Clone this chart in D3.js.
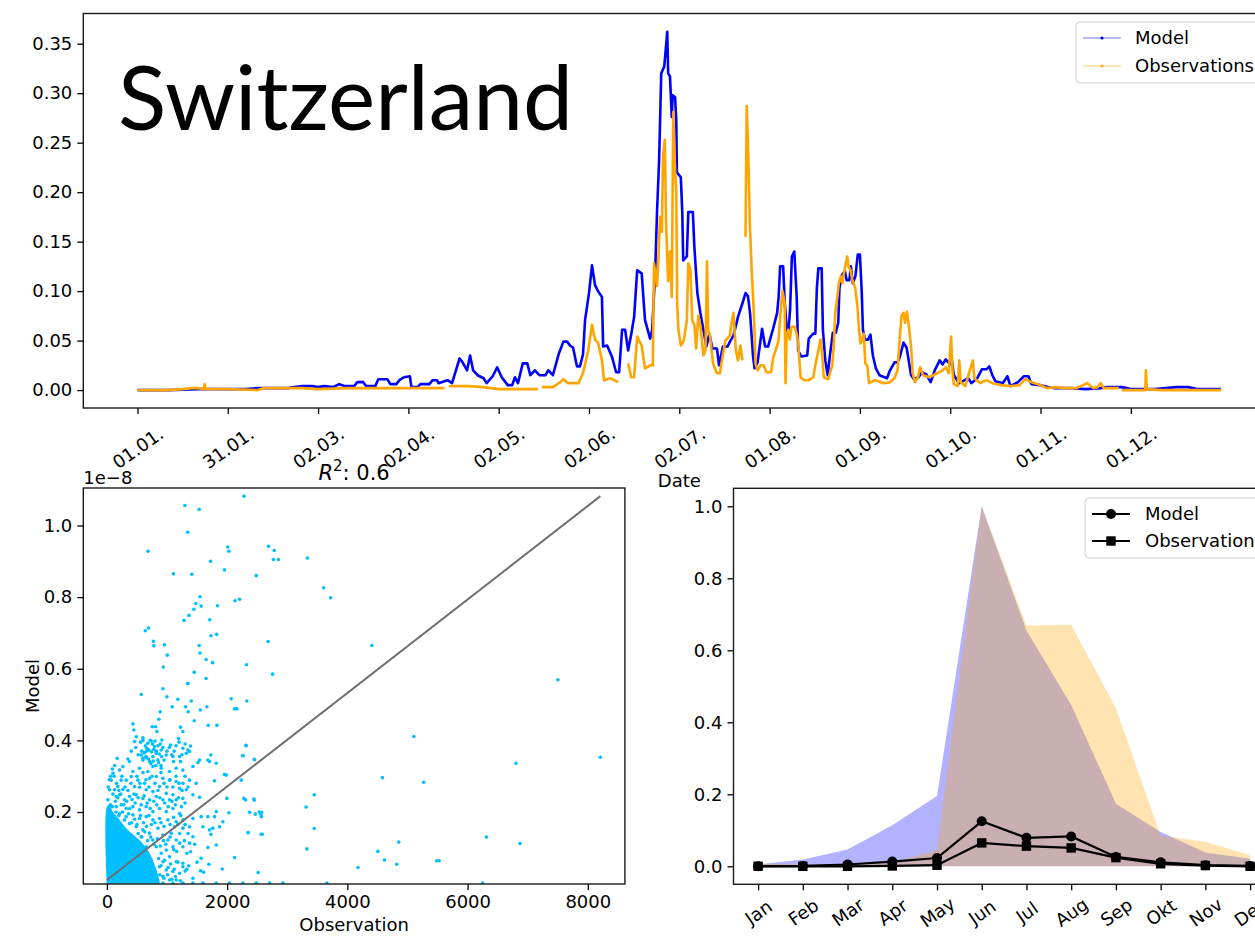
<!DOCTYPE html>
<html>
<head>
<meta charset="utf-8">
<script src="https://cdn.jsdelivr.net/npm/d3@7"></script>
<style>
  html, body { margin: 0; padding: 0; background: #fff; overflow: hidden; }
  svg { display: block; font-family: "DejaVu Sans", sans-serif; }
</style>
</head>
<body>
<svg id="fig" width="1255" height="936"></svg>
<script>
// ---------- time series (day of year, normalised value) ----------
const tickDays = [0, 30, 60, 90, 120, 150, 180, 210, 240, 270, 300, 330];
const tickLabels = ["01.01.", "31.01.", "02.03.", "02.04.", "02.05.", "02.06.",
                    "02.07.", "01.08.", "01.09.", "01.10.", "01.11.", "01.12."];
const yTicksTop = [0, 0.05, 0.10, 0.15, 0.20, 0.25, 0.30, 0.35];

const modelSeries = [
  [0,0],[10,0],[20,0.001],[30,0.001],[36,0.001],[40,0.002],[45,0.002],[50,0.002],[52,0.003],[55,0.004],
  [58,0.004],[60,0.003],[62,0.004],[65,0.003],[67,0.006],[69,0.004],[72,0.004],[73,0.008],[75,0.008],[76,0.004],
  [79,0.004],[80,0.011],[83,0.011],[84,0.006],[86,0.006],[87,0.010],[88.5,0.013],[90.5,0.014],[91,0.003],[93,0.003],
  [94,0.006],[97,0.006],[98,0.010],[99.5,0.010],[100,0.007],[103,0.010],[104.5,0.007],[106,0.022],[107,0.032],[108,0.028],
  [109.5,0.020],[110.5,0.035],[111.5,0.020],[113,0.015],[115,0.012],[116,0.007],[118,0.014],[119.5,0.023],
  [121,0.013],[123,0.005],[124.5,0.005],[125.4,0.013],[126.4,0.007],[128,0.027],[129.5,0.027],[130.5,0.015],[132,0.020],
  [133.5,0.015],[135.5,0.015],[136.5,0.020],[138,0.015],[140,0.037],[141.5,0.049],[142.7,0.049],[143.7,0.045],[144.7,0.043],
  [146,0.024],[147,0.024],[148,0.036],[148.7,0.071],[150,0.098],[151,0.126],[152,0.106],[153,0.100],[154.3,0.094],
  [154.7,0.044],[156,0.045],[157.6,0.034],[159,0.018],[160,0.018],[161,0.061],[162,0.061],[163,0.040],[164,0.056],
  [165,0.074],[166,0.121],[167.5,0.118],[168.6,0.071],[170.3,0.052],[171,0.061],[172,0.121],[172.6,0.180],[173.3,0.233],
  [174,0.320],[175,0.327],[176,0.362],[176.3,0.320],[176.9,0.317],[177.5,0.276],[177.8,0.298],[178.6,0.296],[179,0.272],
  [179.2,0.220],[180.5,0.215],[181,0.179],[181.3,0.131],[182.5,0.135],[183,0.180],[184.5,0.180],[185,0.145],[186,0.098],
  [187,0.078],[188,0.061],[189,0.044],[190,0.057],[191,0.042],[192.5,0.042],[193.2,0.025],[194.5,0.044],[196,0.044],
  [197,0.050],[198,0.055],[199.5,0.074],[201,0.088],[202,0.098],[202.8,0.095],[203.5,0.078],[204.5,0.034],[205,0.022],
  [206,0.028],[207.5,0.062],[208.5,0.044],[209.5,0.044],[210.5,0.055],[211,0.060],[212.5,0.078],[213,0.094],[213.5,0.125],
  [214.5,0.125],[215,0.090],[215.7,0.061],[216.2,0.058],[216.8,0.081],[217.4,0.135],[218.2,0.140],[219,0.094],[219.5,0.040],
  [220.5,0.034],[222.5,0.035],[223,0.052],[224.5,0.057],[225.2,0.057],[225.7,0.103],[226.2,0.123],[227.3,0.123],[227.7,0.061],
  [228.5,0.030],[229.3,0.015],[230,0.034],[231,0.058],[232,0.058],[232.8,0.068],[233.2,0.103],[234,0.116],[235,0.120],
  [235.6,0.111],[236.5,0.111],[237,0.125],[237.6,0.108],[238.5,0.115],[239.3,0.137],[240,0.137],[240.6,0.100],[241,0.061],
  [241.7,0.051],[242.7,0.051],[243.5,0.056],[244.3,0.035],[245.3,0.022],[246.5,0.015],[249,0.012],[250,0.020],[251.5,0.028],
  [252.5,0.028],[253.2,0.033],[254.5,0.048],[255.5,0.043],[256,0.034],[257,0.015],[258,0.011],[259.5,0.013],[260.5,0.018],
  [262,0.016],[263.5,0.008],[265,0.021],[266.5,0.030],[267.5,0.026],[268.5,0.031],[270,0.026],[270.6,0.029],[271.2,0.015],
  [273,0.007],[276,0.012],[277,0.007],[279,0.012],[280.5,0.021],[282,0.021],[283,0.024],[284,0.015],[285,0.009],
  [287.5,0.007],[289,0.014],[290,0.004],[292.5,0.008],[294.5,0.014],[296,0.014],[297,0.006],[300,0.005],[302.5,0.003],
  [305,0.002],[310,0.002],[315,0.001],[320,0.002],[322,0.003],[327,0.003],[330,0.001],[335,0.001],[338,0.001],
  [345,0.003],[349,0.003],[352,0.001],[360,0.001]
];

// null marks a gap in the observation record
const obsSeries = [
  [0,0],[10,0],[15,0.001],[18,0.002],[20,0.002],[22,0.001],[22.3,0.006],[22.7,0.001],[30,0.001],[40,0.000],
  [42,0.002],[50,0.002],[55,0.002],[60,0.001],[70,0.002],[80,0.002],[90,0.002],[100,0.002],[102,0.002],[102.5,null],
  [103.5,0.004],[110,0.004],[115,0.003],[120,0.001],[121,0.001],[130,0.001],[133,0.001],[133.7,null],[134.3,0.003],
  [138,0.003],[140.5,0.008],[141.5,0.011],[143,0.007],[146.5,0.007],[148,0.017],[149.7,0.039],[151,0.066],[152,0.051],
  [153,0.048],[154.3,0.030],[155,0.010],[157,0.012],[159.7,0.008],[160.5,null],[163,0.027],[164,0.013],[165,0.013],
  [166,0.054],[167.5,0.045],[168.6,0.022],[170.3,0.025],[171.2,0.025],[171.6,0.128],[172.6,0.105],[173,0.128],
  [173.6,0.175],[174.2,0.160],[174.6,0.236],[175.2,0.253],[175.6,0.170],[176.3,0.110],[176.9,0.140],[177.5,0.094],
  [178,0.281],[178.6,0.222],[179,0.200],[179.3,0.088],[179.7,0.061],[180.5,0.045],[181.5,0.050],[182.5,0.070],
  [183,0.128],[183.7,0.122],[184.3,0.070],[185,0.066],[185.6,0.042],[186.3,0.075],[187,0.065],[188,0.035],[188.7,0.040],
  [189.2,0.130],[189.6,0.060],[190.2,0.055],[191.2,0.027],[192.5,0.017],[193.5,0.017],[194,0.027],[195.3,0.050],
  [196.8,0.055],[197.3,0.067],[198,0.078],[198.8,0.040],[199.5,0.030],[200.3,0.045],[201,0.030],[201.5,null],
  [202,0.155],[202.4,0.287],[202.8,0.250],[203.1,0.215],[203.4,0.170],[203.8,0.140],[204.1,0.118],[204.5,0.094],
  [204.9,0.067],[205.3,0.027],[206,0.020],[207,0.025],[208,0.025],[209,0.018],[210.5,0.018],[211.2,0.033],[212,0.040],
  [213,0.050],[213.5,0.074],[214.3,0.100],[215,0.088],[215.3,0.007],[215.6,0.051],[216.2,0.061],[216.7,0.051],
  [217.3,0.064],[218.3,0.064],[219,0.057],[219.5,0.047],[220.3,0.013],[221.5,0.010],[223,0.010],[224.5,0.013],
  [225.3,0.027],[226.2,0.040],[226.9,0.051],[227.4,0.040],[228,0.013],[229.5,0.011],[230.8,0.025],[231.3,0.044],
  [231.8,0.078],[232.5,0.094],[233,0.108],[233.7,0.115],[234.2,0.108],[234.7,0.118],[235.2,0.126],[235.8,0.135],
  [236.2,0.125],[236.9,0.121],[237.5,0.111],[238.4,0.104],[239.2,0.084],[239.7,0.061],[240.2,0.047],[240.8,0.051],
  [241.3,0.057],[241.8,0.027],[242.5,0.024],[243,0.007],[245,0.010],[248,0.007],[250,0.008],[251.5,0.012],[252.5,0.020],
  [253.2,0.051],[253.8,0.075],[254.5,0.078],[255,0.068],[255.6,0.079],[256,0.071],[256.4,0.061],[257,0.044],[257.5,0.017],
  [258.3,0.008],[259.3,0.013],[260,0.023],[261,0.015],[263,0.013],[265,0.016],[267.5,0.020],[268.5,0.023],[269.5,0.017],
  [270.3,0.054],[270.8,0.017],[271.2,0.006],[272.5,0.004],[273,0.030],[273.5,0.008],[275,0.004],[277.5,0.030],[278,0.012],
  [280,0.007],[282,0.010],[284,0.007],[287,0.005],[290,0.004],[293,0.005],[295,0.011],[297,0.008],[300,0.005],
  [302,0.002],[305,0.003],[308,0.002],[312,0.002],[315.5,0.007],[317.5,0.002],[319,0.003],[320,0.007],[321,0.002],
  [326,0.002],[326.5,null],[327,0.000],[334.8,0.000],[335,0.020],[335.3,0.001],[340,0.000],[360,0.000]
];

// ---------- scatter: observation vs. model (model in units of 1e-8) ----------
const scatterTicksX = [0, 2000, 4000, 6000, 8000];
const scatterTicksY = [0.2, 0.4, 0.6, 0.8, 1.0];
const scatterPoints = [
  [932,0.544],[1347,0.559],[571,0.528],[998,0.522],[1181,0.515],[1309,0.494],[1403,0.510],[1087,0.494],[1664,0.494],
  [2068,0.516],[2329,0.510],[2124,0.488],[2163,0.488],[1553,0.485],[887,0.480],[1353,0.480],[865,0.459],[1453,0.455],
  [433,0.446],[810,0.438],[754,0.438],[1686,0.442],[1830,0.442],[1225,0.437],[1264,0.425],[449,0.429],[832,0.425],
  [488,0.410],[460,0.397],[599,0.407],[737,0.398],[915,0.401],[1192,0.405],[2312,0.385],[1059,0.387],[1392,0.384],
  [1347,0.373],[1730,0.359],[2257,0.357],[2451,0.347],[349,0.348],[405,0.370],[571,0.359],[654,0.369],[682,0.375],
  [793,0.383],[821,0.364],[765,0.355],[654,0.355],[599,0.350],[710,0.341],[848,0.345],[904,0.373],[987,0.359],
  [1098,0.355],[1209,0.355],[1264,0.378],[1320,0.364],[1375,0.369],[1109,0.341],[1225,0.341],[1431,0.327],[1514,0.338],
  [1542,0.345],[1680,0.345],[1708,0.341],[1819,0.336],[1042,0.313],[1153,0.322],[1264,0.317],[904,0.322],[765,0.327],
  [682,0.313],[543,0.322],[433,0.313],[405,0.299],[322,0.289],[516,0.289],[627,0.280],[710,0.294],[821,0.299],
  [932,0.294],[1042,0.289],[1153,0.285],[1264,0.280],[1375,0.289],[1486,0.280],[1791,0.287],[1985,0.303],[1957,0.305],
  [2235,0.289],[460,0.271],[543,0.269],[654,0.262],[765,0.257],[876,0.271],[987,0.252],[1098,0.248],[1209,0.266],
  [1320,0.262],[1431,0.248],[266,0.263],[211,0.248],[294,0.234],[377,0.243],[488,0.248],[599,0.238],[710,0.234],
  [821,0.243],[932,0.234],[1042,0.234],[1153,0.234],[1264,0.238],[1542,0.241],[1996,0.238],[2279,0.238],[2307,0.234],
  [2445,0.236],[155,0.215],[238,0.220],[322,0.210],[433,0.215],[543,0.206],[654,0.215],[765,0.201],[876,0.210],
  [987,0.201],[1098,0.210],[1209,0.196],[128,0.187],[211,0.196],[322,0.187],[433,0.192],[543,0.182],[654,0.187],
  [765,0.178],[876,0.182],[1015,0.178],[1153,0.173],[1264,0.178],[1431,0.182],[1569,0.187],[1680,0.187],[1791,0.187],
  [1930,0.173],[1819,0.201],[2030,0.198],[2373,0.199],[2468,0.194],[2573,0.199],[2573,0.187],[1597,0.159],[1763,0.155],
  [1874,0.159],[1375,0.159],[1264,0.155],[1126,0.159],[1070,0.141],[932,0.136],[1015,0.122],[1153,0.122],[1209,0.113],
  [1264,0.103],[1098,0.103],[987,0.094],[1042,0.075],[1153,0.061],[1264,0.057],[932,0.061],[876,0.047],[987,0.038],
  [1098,0.034],[1209,0.029],[1264,0.047],[1392,0.089],[1680,0.101],[1819,0.108],[2124,0.073],[1569,0.071],[1697,0.054],
  [1919,0.041],[1558,0.036],[1608,0.032],[2517,0.031],[2351,0.142],[2584,0.138],[1730,0.138],[1708,0.150],[1431,0.131],
  [1375,0.113],[710,0.141],[765,0.122],[821,0.103],[904,0.085],[737,0.061],[793,0.034],[654,0.020],[932,0.020],
  [1042,0.010],[1153,0.010],[1431,0.015],
  [932,0.002],[1098,0.002],[1264,0.002],[1431,0.002],[1597,0.002],[1819,0.002],[2040,0.002],[2262,0.002],[2484,0.002],
  [2706,0.002],[2928,0.002],[3660,0.002],[6250,0.002],
  [17,0.234],[44,0.262],[72,0.289],[100,0.308],[33,0.196],[89,0.215],[155,0.243],[183,0.271],[238,0.289],[266,0.327],
  [377,0.341],[211,0.317],[128,0.262],[294,0.178],[377,0.168],[488,0.159],[599,0.150],[571,0.131],[654,0.103],
  [599,0.085],[682,0.075],[543,0.047],
  [560,0.395],[600,0.400],[640,0.385],[680,0.392],[720,0.400],[760,0.390],[800,0.398],[850,0.385],[890,0.390],[930,0.380],
  [580,0.370],[620,0.365],[660,0.378],[700,0.372],[740,0.368],[780,0.375],[820,0.370],[870,0.362],[910,0.355],
  [600,0.345],[640,0.352],[690,0.348],[730,0.335],[770,0.342],[815,0.330],[860,0.338],[900,0.330],[950,0.345],
  [520,0.360],[480,0.380],[1000,0.370],[1040,0.380],[1080,0.360],[1120,0.370],[1150,0.385],[1200,0.395],[1250,0.360],
  [1300,0.390],
  [120,0.300],[160,0.280],[200,0.260],[250,0.300],[300,0.270],[350,0.260],[400,0.280],[450,0.250],[500,0.300],
  [550,0.280],[600,0.310],[650,0.290],[700,0.270],[750,0.300],[800,0.280],[850,0.260],[900,0.310],[950,0.280],
  [1000,0.270],[1050,0.290],[1100,0.270],[1150,0.300],[1200,0.280],[1250,0.260],[1300,0.300],[1350,0.270],
  [100,0.250],[140,0.230],[180,0.240],[230,0.250],[280,0.220],[330,0.230],[380,0.210],[420,0.235],[470,0.225],
  [520,0.240],[570,0.220],[620,0.245],[670,0.225],[720,0.210],[780,0.230],[830,0.220],[880,0.240],[960,0.225],
  [1020,0.215],[1080,0.230],[1140,0.220],[1190,0.240],[1240,0.215],[1300,0.225],
  [60,0.220],[150,0.200],[200,0.190],[260,0.200],[360,0.195],[410,0.170],[460,0.180],[500,0.165],[560,0.190],
  [610,0.170],[660,0.160],[700,0.190],[740,0.165],[800,0.170],[850,0.155],[900,0.170],[950,0.160],[1050,0.165],
  [1110,0.185],[1180,0.165],[1230,0.190],[1300,0.165],[1350,0.140],
  [520,0.140],[580,0.130],[630,0.145],[680,0.120],[730,0.130],[780,0.110],[840,0.125],[890,0.105],[940,0.120],
  [980,0.110],[1050,0.130],[1110,0.095],[1160,0.090],[1210,0.140],[1290,0.120],[1330,0.085],[1460,0.110],[1500,0.060],
  [860,0.070],[900,0.050],[960,0.065],[1020,0.045],[1060,0.055],[1120,0.040],[1180,0.060],[1300,0.035],[1360,0.050],
  [880,0.025],[950,0.015],[1010,0.025],[1080,0.012],[1140,0.020],[1220,0.008],[1330,0.040],
  [20,0.270],[40,0.290],[60,0.300],[90,0.320],[130,0.330],[170,0.350],
  [2281,1.082],[1297,1.056],[1535,1.045],[1344,0.981],[686,0.928],[2030,0.928],[2010,0.940],[2689,0.942],[2784,0.930],
  [2770,0.905],[2852,0.905],[3334,0.909],[1725,0.900],[1956,0.876],[1107,0.865],[1412,0.864],[2485,0.860],[3606,0.826],
  [3721,0.798],[1548,0.801],[1480,0.782],[1568,0.775],[1840,0.776],[2132,0.790],[2207,0.794],[1446,0.766],[1365,0.749],
  [1283,0.735],[1711,0.737],[774,0.677],[781,0.664],[638,0.706],[693,0.714],[957,0.667],[1005,0.638],[2682,0.676],
  [1731,0.692],[1827,0.696],[4407,0.665],[1535,0.665],[1548,0.644],[937,0.605],[2322,0.611],[1650,0.626],[1759,0.617],
  [1453,0.590],[2757,0.585],[1650,0.573],[7503,0.569],[1344,0.559],[5106,0.411],[6804,0.336],[8209,0.353],[4583,0.296],
  [5269,0.283],[3449,0.248],[3314,0.214],[3449,0.154],[3327,0.097],[6315,0.130],[6872,0.112],[4855,0.116],[4508,0.090],
  [4617,0.066],[4821,0.054],[5486,0.064],[5527,0.064],[4176,0.045],[2458,0.346],[2315,0.386],[2268,0.357],[2533,0.200],
  [2560,0.195],[2567,0.189],[2567,0.138],[2349,0.143],[2451,0.233]
];
// outline of the saturated point cloud near the origin
const denseCore = [[0,0],[0,0.215],[40,0.220],[100,0.200],[180,0.185],[322,0.155],[450,0.135],[580,0.115],
                   [710,0.085],[800,0.050],[870,0.012],[880,0]];
const fitLine = [[0, 0.010], [8209, 1.082]];

// ---------- monthly summary ----------
const months = ["Jan","Feb","Mar","Apr","May","Jun","Jul","Aug","Sep","Okt","Nov","Dec"];
const modelEnvelope = [0.005, 0.019, 0.047, 0.114, 0.195, 1.0, 0.655, 0.448, 0.174, 0.095, 0.038, 0.021];
const obsEnvelope   = [0.007, 0.005, 0.003, 0.010, 0.045, 1.0, 0.669, 0.671, 0.439, 0.085, 0.068, 0.031];
const modelMonthly  = [0.0, 0.001, 0.005, 0.013, 0.023, 0.125, 0.079, 0.083, 0.026, 0.011, 0.003, 0.001];
const obsMonthly    = [0.0, 0.0, 0.0, 0.001, 0.003, 0.065, 0.056, 0.051, 0.024, 0.007, 0.002, 0.0];
const yTicksMonthly = [0.0, 0.2, 0.4, 0.6, 0.8, 1.0];

// ---------- drawing ----------
const svg = d3.select("#fig");
const BLUE = "#0000ff", ORANGE = "#ffa500", SKY = "#00bfff";
const FONT = "DejaVu Sans, sans-serif";
const LABEL_ANGLE = -35;

function styleAxis(g) {
  g.select(".domain").remove();
  g.selectAll(".tick line").attr("stroke", "#000").attr("stroke-width", 1.3);
  g.selectAll(".tick text").attr("fill", "#000").style("font-size", "18px").style("font-family", FONT);
}
function frame(x0, y0, x1, y1) {
  svg.append("rect").attr("x", x0).attr("y", y0).attr("width", x1 - x0).attr("height", y1 - y0)
    .attr("fill", "none").attr("stroke", "#1a1a1a").attr("stroke-width", 1.4);
}
function clip(id, x0, y0, x1, y1) {
  svg.append("clipPath").attr("id", id).append("rect")
    .attr("x", x0).attr("y", y0).attr("width", x1 - x0).attr("height", y1 - y0);
  return "url(#" + id + ")";
}

// ===== top: time series =====
const T = {x0: 83.3, x1: 1275.3, y0: 13.5, y1: 408};
const xT = d3.scaleLinear().domain([-18, 378]).range([T.x0, T.x1]);
const yT = d3.scaleLinear().domain([-0.0181, 0.3805]).range([T.y1, T.y0]);
const clipT = clip("clipTop", T.x0, T.y0, T.x1, T.y1);

const lineT = d3.line().defined(d => d[1] !== null).x(d => xT(d[0])).y(d => yT(d[1]));
const gT = svg.append("g").attr("clip-path", clipT);
gT.append("path").datum(modelSeries).attr("d", lineT).attr("fill", "none")
  .attr("stroke", BLUE).attr("stroke-width", 2.6).attr("stroke-linejoin", "round");
gT.append("path").datum(obsSeries).attr("d", lineT).attr("fill", "none")
  .attr("stroke", ORANGE).attr("stroke-width", 2.6).attr("stroke-linejoin", "round");

const axT = svg.append("g").attr("transform", `translate(0,${T.y1})`)
  .call(d3.axisBottom(xT).tickValues(tickDays).tickFormat((d, i) => tickLabels[i]).tickSize(6));
styleAxis(axT);
axT.selectAll(".tick text").attr("y", 0).attr("dy", "0.35em").attr("text-anchor", "middle")
  .attr("transform", `translate(0,40) rotate(${LABEL_ANGLE})`);
const ayT = svg.append("g").attr("transform", `translate(${T.x0},0)`)
  .call(d3.axisLeft(yT).tickValues(yTicksTop).tickFormat(d3.format(".2f")).tickSize(6).tickPadding(5));
styleAxis(ayT);
frame(T.x0, T.y0, T.x1, T.y1);

svg.append("text").attr("x", (T.x0 + T.x1) / 2).attr("y", 487).attr("text-anchor", "middle")
  .style("font-family", FONT).style("font-size", "18px").text("Date");

// country title
const title = svg.append("text").attr("x", 118).attr("y", 130)
  .style("font-family", "Lato, 'Open Sans', sans-serif").style("font-size", "100px").attr("fill", "#000")
  .text("Switzerland");
const tw = title.node().getComputedTextLength();
title.style("font-size", (100 * 455 / tw).toFixed(1) + "px");

// legend (top)
const lgT = svg.append("g");
lgT.append("rect").attr("x", 1076).attr("y", 22).attr("width", 190).attr("height", 61).attr("rx", 4)
  .attr("fill", "#fff").attr("fill-opacity", 0.8).attr("stroke", "#cccccc").attr("stroke-width", 1);
[["Model", BLUE, 38], ["Observations", ORANGE, 66]].forEach(([label, col, yy]) => {
  lgT.append("line").attr("x1", 1083).attr("x2", 1121).attr("y1", yy).attr("y2", yy)
    .attr("stroke", col).attr("stroke-opacity", 0.55).attr("stroke-width", 1.2);
  lgT.append("circle").attr("cx", 1102).attr("cy", yy).attr("r", 1.6).attr("fill", col);
  lgT.append("text").attr("x", 1135).attr("y", yy).attr("dy", "0.35em")
    .style("font-family", FONT).style("font-size", "18px").text(label);
});

// ===== bottom left: scatter =====
const S = {x0: 83.3, x1: 624.9, y0: 488, y1: 884};
const xS = d3.scaleLinear().domain([-392.6, 8617]).range([S.x0, S.x1]);
const yS = d3.scaleLinear().domain([-0.001, 1.1047]).range([S.y1, S.y0]);
const clipS = clip("clipScatter", S.x0, S.y0, S.x1, S.y1);
const gS = svg.append("g").attr("clip-path", clipS);
gS.append("path").datum(denseCore).attr("fill", SKY)
  .attr("d", d3.line().x(d => xS(d[0])).y(d => yS(d[1])).curve(d3.curveCatmullRom));
gS.selectAll("circle.pt").data(scatterPoints).join("circle").attr("class", "pt")
  .attr("cx", d => xS(d[0])).attr("cy", d => yS(d[1])).attr("r", 1.8).attr("fill", SKY);
gS.append("path").datum(fitLine).attr("fill", "none").attr("stroke", "#6e6e6e").attr("stroke-width", 2)
  .attr("d", d3.line().x(d => xS(d[0])).y(d => yS(d[1])));

const axS = svg.append("g").attr("transform", `translate(0,${S.y1})`)
  .call(d3.axisBottom(xS).tickValues(scatterTicksX).tickFormat(d3.format("d")).tickSize(6).tickPadding(5));
styleAxis(axS);
const ayS = svg.append("g").attr("transform", `translate(${S.x0},0)`)
  .call(d3.axisLeft(yS).tickValues(scatterTicksY).tickFormat(d3.format(".1f")).tickSize(6).tickPadding(5));
styleAxis(ayS);
frame(S.x0, S.y0, S.x1, S.y1);

svg.append("text").attr("x", (S.x0 + S.x1) / 2).attr("y", 931).attr("text-anchor", "middle")
  .style("font-family", FONT).style("font-size", "18px").text("Observation");
svg.append("text").attr("transform", `translate(38.5,${(S.y0 + S.y1) / 2}) rotate(-90)`)
  .attr("text-anchor", "middle").style("font-family", FONT).style("font-size", "18px").text("Model");
svg.append("text").attr("x", S.x0).attr("y", 484).style("font-family", FONT).style("font-size", "18px")
  .text("1e\u22128");
const r2 = svg.append("text").attr("x", (S.x0 + S.x1) / 2).attr("y", 480).attr("text-anchor", "middle")
  .style("font-family", FONT).style("font-size", "21px");
r2.append("tspan").style("font-style", "italic").text("R");
r2.append("tspan").attr("dy", -9).style("font-size", "15px").text("2");
r2.append("tspan").attr("dy", 9).text(": 0.6");

// ===== bottom right: monthly =====
const M = {x0: 733.5, x1: 1274.7, y0: 488.3, y1: 884.3};
const xM = d3.scaleLinear().domain([-0.55, 11.55]).range([M.x0, M.x1]);
const yM = d3.scaleLinear().domain([-0.05, 1.05]).range([M.y1, M.y0]);
const clipM = clip("clipMonthly", M.x0, M.y0, M.x1, M.y1);
const gM = svg.append("g").attr("clip-path", clipM);
const areaM = d3.area().x((d, i) => xM(i)).y0(yM(0)).y1(d => yM(d));
gM.append("path").datum(modelEnvelope).attr("d", areaM).attr("fill", BLUE).attr("fill-opacity", 0.3);
gM.append("path").datum(obsEnvelope).attr("d", areaM).attr("fill", ORANGE).attr("fill-opacity", 0.3);
const lineM = d3.line().x((d, i) => xM(i)).y(d => yM(d));
gM.append("path").datum(modelMonthly).attr("d", lineM).attr("fill", "none").attr("stroke", "#000").attr("stroke-width", 2.2);
gM.append("path").datum(obsMonthly).attr("d", lineM).attr("fill", "none").attr("stroke", "#000").attr("stroke-width", 2.2);
svg.append("g").selectAll("circle").data(modelMonthly).join("circle")
  .attr("cx", (d, i) => xM(i)).attr("cy", d => yM(d)).attr("r", 5).attr("fill", "#000");
svg.append("g").selectAll("rect").data(obsMonthly).join("rect")
  .attr("x", (d, i) => xM(i) - 4.7).attr("y", d => yM(d) - 4.7).attr("width", 9.4).attr("height", 9.4).attr("fill", "#000");

const axM = svg.append("g").attr("transform", `translate(0,${M.y1})`)
  .call(d3.axisBottom(xM).tickValues(d3.range(12)).tickFormat((d, i) => months[i]).tickSize(6));
styleAxis(axM);
axM.selectAll(".tick text").attr("y", 0).attr("dy", "0.35em").attr("text-anchor", "middle")
  .attr("transform", `translate(0,28) rotate(${LABEL_ANGLE})`);
const ayM = svg.append("g").attr("transform", `translate(${M.x0},0)`)
  .call(d3.axisLeft(yM).tickValues(yTicksMonthly).tickFormat(d3.format(".1f")).tickSize(6).tickPadding(5));
styleAxis(ayM);
frame(M.x0, M.y0, M.x1, M.y1);

const lgM = svg.append("g");
lgM.append("rect").attr("x", 1085).attr("y", 498).attr("width", 180).attr("height", 60).attr("rx", 4)
  .attr("fill", "#fff").attr("fill-opacity", 0.8).attr("stroke", "#cccccc").attr("stroke-width", 1);
[["Model", "circle", 514], ["Observations", "square", 541]].forEach(([label, shape, yy]) => {
  lgM.append("line").attr("x1", 1092).attr("x2", 1130).attr("y1", yy).attr("y2", yy)
    .attr("stroke", "#000").attr("stroke-width", 2.2);
  if (shape === "circle") lgM.append("circle").attr("cx", 1111).attr("cy", yy).attr("r", 5).attr("fill", "#000");
  else lgM.append("rect").attr("x", 1111 - 4.7).attr("y", yy - 4.7).attr("width", 9.4).attr("height", 9.4).attr("fill", "#000");
  lgM.append("text").attr("x", 1145).attr("y", yy).attr("dy", "0.35em")
    .style("font-family", FONT).style("font-size", "18px").text(label);
});
</script>
</body>
</html>
